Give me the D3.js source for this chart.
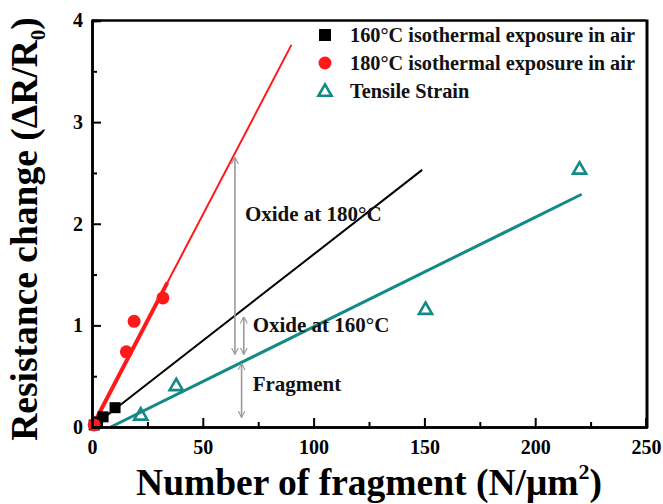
<!DOCTYPE html>
<html><head><meta charset="utf-8">
<script src="https://cdn.jsdelivr.net/npm/d3@7"></script>
<style>body{margin:0;background:#fff}svg{display:block}text{font-family:"Liberation Serif","DejaVu Serif",serif;font-weight:bold}</style>
</head><body>
<svg id="c" width="663" height="504"></svg>
<script>
// ---- data ----
const xTicks = [0, 50, 100, 150, 200, 250];
const yTicks = [0, 1, 2, 3, 4];
const xMinor = [25, 75, 125, 175, 225];
const yMinor = [0.5, 1.5, 2.5, 3.5];

const s160X = [1, 2.5, 5, 10.4];
const s160Y = [0.02, 0.05, 0.1, 0.19];
const s180X = [1, 15.5, 19, 32];
const s180Y = [0.02, 0.74, 1.04, 1.27];
const tenX = [22, 38, 150.5, 220];
const tenY = [0.12, 0.41, 1.16, 2.54];

const fit160X = [0, 149];
const fit160Y = [0, 2.53];
const fit180X = [0, 90];
const fit180Y = [0, 3.76];
const fit180BoldX = [0, 34];
const fit180BoldY = [0, 1.42];
const fitTenX = [8.5, 221];
const fitTenY = [0, 2.29];

const arrowX = [64.5, 68.5, 67.5];
const arrowTop = [2.65, 1.08, 0.62];
const arrowBot = [0.72, 0.72, 0.1];
const noteLabels = ["Oxide at 180°C", "Oxide at 160°C", "Fragment"];
const noteX = [69, 72.5, 72.5];
const noteY = [2.03, 0.93, 0.35];

const legendLabels = ["160°C isothermal exposure in air", "180°C isothermal exposure in air", "Tensile Strain"];

// ---- drawing ----
const svg = d3.select("#c");
const L = 92, R = 646, T = 20.5, B = 427;
const x = d3.scaleLinear().domain([0, 250]).range([L, R]);
const y = d3.scaleLinear().domain([0, 4]).range([B, T]);
const teal = "#138a86";
const gray = "#9a9a9a";

const defs = svg.append("defs");
defs.append("marker").attr("id", "ah").attr("viewBox", "0 0 10 10").attr("refX", 9).attr("refY", 5)
  .attr("markerWidth", 7).attr("markerHeight", 8).attr("markerUnits", "userSpaceOnUse").attr("orient", "auto-start-reverse")
  .append("path").attr("d", "M0,0 L10,5 L0,10").attr("fill", "none").attr("stroke", gray).attr("stroke-width", 1.6);

const line = d3.line().x(d => x(d[0])).y(d => y(d[1]));
function drawFit(xs, ys, color, w) {
  svg.append("path").datum(xs.map((v, i) => [v, ys[i]])).attr("d", line)
    .attr("fill", "none").attr("stroke", color).attr("stroke-width", w);
}
drawFit(fit160X, fit160Y, "#000", 2);
drawFit(fitTenX, fitTenY, teal, 3);
drawFit(fit180X, fit180Y, "#ff1a1a", 2);
drawFit(fit180BoldX, fit180BoldY, "#ff1a1a", 4);

// arrows
arrowX.forEach((ax, i) => {
  svg.append("line").attr("x1", x(ax)).attr("x2", x(ax)).attr("y1", y(arrowTop[i])).attr("y2", y(arrowBot[i]))
    .attr("stroke", gray).attr("stroke-width", 1.6)
    .attr("marker-start", "url(#ah)").attr("marker-end", "url(#ah)");
});
noteLabels.forEach((t, i) => {
  svg.append("text").attr("x", x(noteX[i])).attr("y", y(noteY[i])).attr("font-size", 21).attr("fill", "#111").text(t);
});

// points
const sq = 11;
s160X.forEach((v, i) => {
  svg.append("rect").attr("x", x(v) - sq / 2).attr("y", y(s160Y[i]) - sq / 2).attr("width", sq).attr("height", sq).attr("fill", "#000");
});
s180X.forEach((v, i) => {
  svg.append("circle").attr("cx", x(v)).attr("cy", y(s180Y[i])).attr("r", 6.5).attr("fill", "#ff1a1a");
});
const tri = d3.symbol().type(d3.symbolTriangle).size(75);
tenX.forEach((v, i) => {
  svg.append("path").attr("d", tri).attr("transform", `translate(${x(v)},${y(tenY[i]) + 1})`)
    .attr("fill", "none").attr("stroke", teal).attr("stroke-width", 2.6);
});

// frame
svg.append("line").attr("x1", L).attr("x2", R).attr("y1", T).attr("y2", T).attr("stroke", "#000").attr("stroke-width", 2.5);
svg.append("line").attr("x1", R + 1).attr("x2", R + 1).attr("y1", T - 1).attr("y2", B + 1).attr("stroke", "#000").attr("stroke-width", 3);

// axes
const xAxis = svg.append("g").attr("transform", `translate(0,${B})`)
  .call(d3.axisBottom(x).tickValues(xTicks).tickSize(-9).tickFormat(d3.format("d")));
const xAxisMinor = svg.append("g").attr("transform", `translate(0,${B})`)
  .call(d3.axisBottom(x).tickValues(xMinor).tickSize(-5).tickFormat(""));
const yAxis = svg.append("g").attr("transform", `translate(${L},0)`)
  .call(d3.axisLeft(y).tickValues(yTicks).tickSize(-9).tickFormat(d3.format("d")));
const yAxisMinor = svg.append("g").attr("transform", `translate(${L},0)`)
  .call(d3.axisLeft(y).tickValues(yMinor).tickSize(-5).tickFormat(""));
[xAxis, xAxisMinor, yAxis, yAxisMinor].forEach(g => {
  g.attr("font-family", null);
  g.select(".domain").attr("stroke", "#000").attr("stroke-width", 2.5);
  g.selectAll(".tick line").attr("stroke", "#000").attr("stroke-width", 2);
});
xAxis.selectAll(".tick text").attr("font-size", 20).attr("fill", "#000").attr("dy", "1.1em").attr("y", 5);
yAxis.selectAll(".tick text").attr("font-size", 20).attr("fill", "#000").attr("x", -9).attr("dy", "0.32em");

// legend
const lx = 325, ly = [35, 63, 91];
svg.append("rect").attr("x", lx - 6).attr("y", ly[0] - 6).attr("width", 12).attr("height", 12).attr("fill", "#000");
svg.append("circle").attr("cx", lx).attr("cy", ly[1]).attr("r", 6.5).attr("fill", "#ff1a1a");
svg.append("path").attr("d", tri).attr("transform", `translate(${lx},${ly[2] + 1})`)
  .attr("fill", "none").attr("stroke", teal).attr("stroke-width", 2.6);
legendLabels.forEach((t, i) => {
  svg.append("text").attr("x", 350).attr("y", ly[i]).attr("dy", "0.35em").attr("font-size", 20.3).attr("fill", "#111").text(t);
});

// axis titles
const xt = svg.append("text").attr("x", 369).attr("y", 495).attr("text-anchor", "middle").attr("font-size", 37.5).attr("fill", "#000");
xt.append("tspan").text("Number of fragment (N/μm");
xt.append("tspan").attr("font-size", 22).attr("dy", -16).text("2");
xt.append("tspan").attr("dy", 16).text(")");

const yt = svg.append("text").attr("transform", "translate(37,229) rotate(-90)").attr("text-anchor", "middle").attr("font-size", 37.5).attr("fill", "#000");
yt.append("tspan").text("Resistance change (ΔR/R");
yt.append("tspan").attr("font-size", 21).attr("dy", 8).text("0");
yt.append("tspan").attr("dy", -8).text(")");
</script>
</body></html>
